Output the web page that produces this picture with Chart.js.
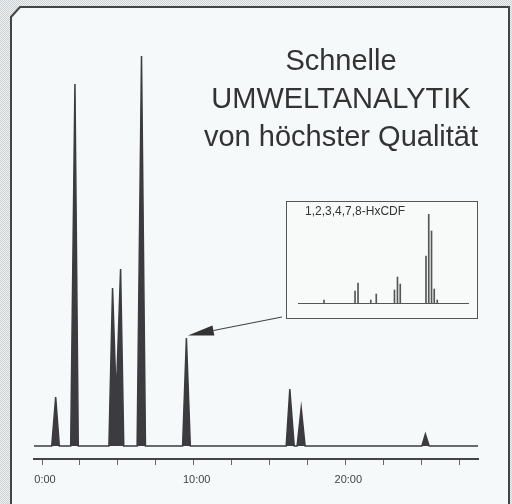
<!DOCTYPE html>
<html>
<head>
<meta charset="utf-8">
<script src="https://cdn.jsdelivr.net/npm/chart.js@4/dist/chart.umd.min.js"></script>
<style>
  html, body { margin: 0; padding: 0; background: #e2e6e6; }
  #wrap { position: relative; width: 512px; height: 504px; overflow: hidden; }
  #main { position: absolute; left: 0; top: 0; }
  #headline {
    position: absolute; left: 200px; top: 41px; width: 282px;
    text-align: center; font-family: "Liberation Sans", Arial, sans-serif;
    font-size: 29px; line-height: 38px; color: #333;
  }
  #inset {
    position: absolute; left: 286px; top: 201px; width: 190px; height: 116px;
    border: 1px solid #555; background: #f8fafa;
  }
  #inset canvas { position: absolute; left: 0; top: 0; }
  #insetTitle {
    position: absolute; left: 18px; top: 2px;
    font-family: "Liberation Sans", Arial, sans-serif; font-size: 12px;
    line-height: 14px; color: #333;
  }
</style>
</head>
<body>
<div id="wrap">
  <canvas id="main" width="512" height="504"></canvas>
  <div id="headline">Schnelle<br>UMWELTANALYTIK<br>von höchster Qualität</div>
  <div id="inset">
    <canvas id="spectrum" width="190" height="116"></canvas>
    <div id="insetTitle">1,2,3,4,7,8-HxCDF</div>
  </div>
</div>
<script>
// Chromatogram trace: retention time (min) and detector signal at each vertex
const traceTimes = [-0.53, 0.64, 0.90, 1.14, 1.89, 2.17, 2.39, 4.41, 4.65, 4.89, 5.18, 5.39,
  6.27, 6.56, 6.82, 9.27, 9.52, 9.78, 16.10, 16.34, 16.63, 16.82, 17.09, 17.35,
  25.05, 25.28, 25.53, 28.75];
const traceSignal = [0, 0, 49, 0, 0, 362, 0, 0, 158, 48, 177, 0,
  0, 390, 0, 0, 108, 0, 0, 57, 0, 0, 38, 0,
  0, 12, 0, 0];

// Time axis
const tickTimes = [0, 2.5, 5, 7.5, 10, 12.5, 15, 17.5, 20, 22.5, 25, 27.5];
const labelTimes = [0, 10, 20];
const labelTexts = ['0:00', '10:00', '20:00'];

// Inset mass spectrum (position along the inset axis, relative intensity)
const spectrumPos = [6.3, 47.7, 51.7, 68.7, 76, 100.3, 104.3, 108, 142.3, 146, 149.7, 153.3, 157.3];
const spectrumInt = [3.4, 13.5, 22.5, 3.4, 10.1, 14.6, 29.2, 21.3, 52.8, 100, 80.9, 15.7, 3.4];

// The highlighted peak the arrow points at
const arrowPeakIndex = 16;

Chart.defaults.font.family = '"Liberation Sans", Arial, sans-serif';

// page background + panel with bevelled corner
const panelPlugin = {
  id: 'panel',
  beforeDraw(chart) {
    const ctx = chart.ctx;
    const pat = document.createElement('canvas');
    pat.width = 2; pat.height = 2;
    const p = pat.getContext('2d');
    p.fillStyle = '#eef1f1'; p.fillRect(0, 0, 2, 2);
    p.fillStyle = '#cdd3d4'; p.fillRect(0, 0, 1, 1); p.fillRect(1, 1, 1, 1);
    ctx.save();
    ctx.fillStyle = ctx.createPattern(pat, 'repeat');
    ctx.fillRect(0, 0, chart.width, chart.height);
    ctx.beginPath();
    ctx.moveTo(20, 7);
    ctx.lineTo(509, 7);
    ctx.lineTo(509, 520);
    ctx.lineTo(11, 520);
    ctx.lineTo(11, 17);
    ctx.closePath();
    ctx.fillStyle = '#f6f9f9';
    ctx.fill();
    ctx.strokeStyle = '#444';
    ctx.lineWidth = 2;
    ctx.stroke();
    ctx.restore();
  }
};

// arrow from inset box to the peak
const arrowPlugin = {
  id: 'arrow',
  afterDatasetsDraw(chart) {
    const ctx = chart.ctx;
    const xs = chart.scales.x, ys = chart.scales.y;
    const tipX = xs.getPixelForValue(traceTimes[arrowPeakIndex]) + 1.5;
    const tipY = ys.getPixelForValue(traceSignal[arrowPeakIndex]) - 2.5;
    const tailX = 282, tailY = 317;
    const dx = tipX - tailX, dy = tipY - tailY;
    const len = Math.hypot(dx, dy);
    const ux = dx / len, uy = dy / len;
    const bx = tipX - 26 * ux, by = tipY - 26 * uy;
    ctx.save();
    ctx.strokeStyle = '#444';
    ctx.lineWidth = 1.2;
    ctx.beginPath();
    ctx.moveTo(tailX, tailY);
    ctx.lineTo(bx, by);
    ctx.stroke();
    ctx.fillStyle = '#333';
    ctx.beginPath();
    ctx.moveTo(tipX, tipY);
    ctx.lineTo(bx - uy * 5, by + ux * 5);
    ctx.lineTo(bx + uy * 5, by - ux * 5);
    ctx.closePath();
    ctx.fill();
    ctx.restore();
  }
};

new Chart(document.getElementById('main'), {
  type: 'line',
  data: {
    datasets: [{
      data: traceTimes.map((t, i) => ({ x: t, y: traceSignal[i] })),
      borderColor: '#3b3b40',
      borderWidth: 1.5,
      backgroundColor: '#3b3b40',
      fill: 'origin',
      pointRadius: 0,
      tension: 0
    }]
  },
  options: {
    responsive: false,
    animation: false,
    layout: { padding: { left: 34, right: 34, top: 46, bottom: 0 } },
    plugins: { legend: { display: false }, tooltip: { enabled: false } },
    scales: {
      x: {
        type: 'linear',
        min: -0.53,
        max: 28.75,
        afterBuildTicks: scale => { scale.ticks = tickTimes.map(v => ({ value: v })); },
        afterFit: scale => { scale.height = 45; },
        border: { display: true, color: '#444', width: 2 },
        grid: { drawOnChartArea: false, drawTicks: true, tickLength: 6, color: '#666', lineWidth: 1 },
        ticks: {
          autoSkip: false,
          maxRotation: 0,
          padding: 8,
          labelOffset: 3,
          color: '#444',
          font: { size: 11 },
          callback: v => {
            const k = labelTimes.indexOf(v);
            return k >= 0 ? labelTexts[k] : '';
          }
        }
      },
      y: {
        display: false,
        min: -13,
        max: 400
      }
    }
  },
  plugins: [panelPlugin, arrowPlugin]
});

new Chart(document.getElementById('spectrum'), {
  type: 'bar',
  data: {
    datasets: [{
      data: spectrumPos.map((x, i) => ({ x: x, y: spectrumInt[i] })),
      backgroundColor: '#555',
      barThickness: 1
    }]
  },
  options: {
    responsive: false,
    animation: false,
    layout: { padding: { left: 11, right: 9, top: 12, bottom: 0 } },
    plugins: { legend: { display: false }, tooltip: { enabled: false } },
    scales: {
      x: {
        type: 'linear',
        min: 0,
        max: 170,
        afterFit: scale => { scale.height = 15; },
        border: { display: true, color: '#555', width: 1 },
        grid: { display: false },
        ticks: { display: false }
      },
      y: { display: false, min: 0, max: 100 }
    }
  }
});
</script>
</body>
</html>
